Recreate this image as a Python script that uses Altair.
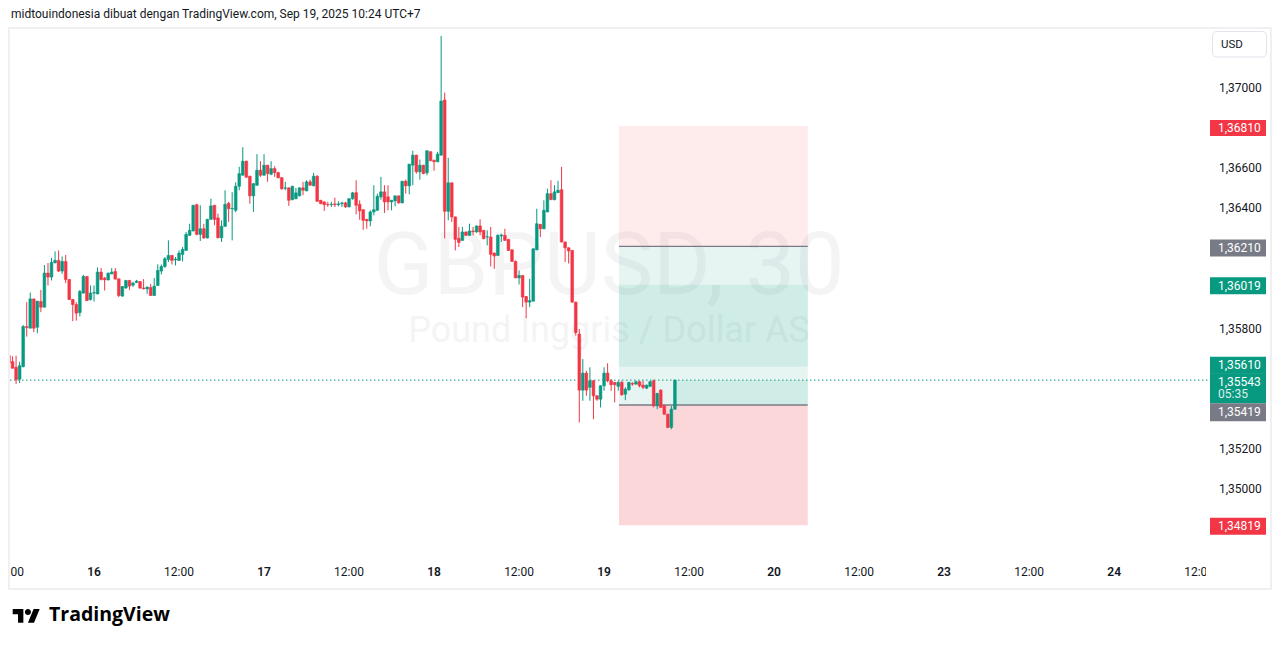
import altair as alt
import pandas as pd

# ---------------- data (GBPUSD 30m, index 0 = Sep 15 12:00 UTC+7) ----------------
opens = [
    1.35665, 1.35635, 1.35607, 1.35548, 1.35610, 1.35810, 1.35802, 1.35948, 1.35807, 1.35935,
    1.35907, 1.36077, 1.36057, 1.36128, 1.36140, 1.36087, 1.36135, 1.36045, 1.35945, 1.35920,
    1.35880, 1.35977, 1.36060, 1.35945, 1.35977, 1.35973, 1.36082, 1.36052, 1.36043, 1.36073,
    1.36085, 1.36048, 1.35962, 1.36003, 1.36040, 1.36017, 1.36030, 1.36035, 1.36002, 1.35998,
    1.36005, 1.35965, 1.36015, 1.36087, 1.36110, 1.36145, 1.36165, 1.36143, 1.36140, 1.36170,
    1.36190, 1.36265, 1.36287, 1.36418, 1.36270, 1.36298, 1.36252, 1.36345, 1.36415, 1.36352,
    1.36253, 1.36310, 1.36425, 1.36397, 1.36390, 1.36510, 1.36565, 1.36635, 1.36560, 1.36462,
    1.36515, 1.36590, 1.36565, 1.36615, 1.36570, 1.36598, 1.36578, 1.36553, 1.36500, 1.36502,
    1.36443, 1.36448, 1.36462, 1.36502, 1.36487, 1.36532, 1.36512, 1.36560, 1.36440, 1.36432,
    1.36420, 1.36418, 1.36422, 1.36418, 1.36423, 1.36427, 1.36407, 1.36448, 1.36478, 1.36420,
    1.36393, 1.36345, 1.36337, 1.36382, 1.36390, 1.36457, 1.36482, 1.36457, 1.36432, 1.36437,
    1.36462, 1.36427, 1.36535, 1.36512, 1.36615, 1.36665, 1.36582, 1.36615, 1.36577, 1.36682,
    1.36640, 1.36632, 1.36665, 1.36940, 1.36385, 1.36527, 1.36357, 1.36250, 1.36240, 1.36282,
    1.36265, 1.36287, 1.36282, 1.36312, 1.36290, 1.36257, 1.36257, 1.36177, 1.36165, 1.36263,
    1.36265, 1.36245, 1.36193, 1.36135, 1.36053, 1.36065, 1.35960, 1.35932, 1.35937, 1.36193,
    1.36320, 1.36298, 1.36382, 1.36473, 1.36443, 1.36478, 1.36493, 1.36232, 1.36203, 1.36190,
    1.35932, 1.35773, 1.35493, 1.35578, 1.35507, 1.35540, 1.35465, 1.35448, 1.35515, 1.35578,
    1.35540, 1.35532, 1.35512, 1.35532, 1.35473, 1.35495, 1.35527, 1.35523, 1.35535, 1.35518,
    1.35503, 1.35512, 1.35540, 1.35415, 1.35493, 1.35415, 1.35373, 1.35307, 1.35398,
]
highs = [
    1.35673, 1.35662, 1.35665, 1.35635, 1.35818, 1.35932, 1.35980, 1.35950, 1.35937, 1.35993,
    1.36117, 1.36127, 1.36153, 1.36185, 1.36190, 1.36160, 1.36167, 1.36047, 1.35948, 1.35932,
    1.35993, 1.36068, 1.36062, 1.36015, 1.36015, 1.36105, 1.36102, 1.36057, 1.36079, 1.36102,
    1.36102, 1.36050, 1.36012, 1.36043, 1.36043, 1.36032, 1.36043, 1.36037, 1.36047, 1.36010,
    1.36023, 1.36053, 1.36120, 1.36120, 1.36157, 1.36240, 1.36167, 1.36157, 1.36190, 1.36207,
    1.36282, 1.36323, 1.36417, 1.36423, 1.36415, 1.36323, 1.36347, 1.36448, 1.36417, 1.36373,
    1.36340, 1.36490, 1.36432, 1.36480, 1.36530, 1.36607, 1.36705, 1.36637, 1.36562, 1.36525,
    1.36670, 1.36635, 1.36670, 1.36617, 1.36635, 1.36610, 1.36582, 1.36555, 1.36532, 1.36504,
    1.36512, 1.36502, 1.36504, 1.36532, 1.36540, 1.36543, 1.36577, 1.36565, 1.36442, 1.36434,
    1.36432, 1.36432, 1.36453, 1.36435, 1.36432, 1.36432, 1.36450, 1.36482, 1.36540, 1.36440,
    1.36395, 1.36347, 1.36390, 1.36515, 1.36473, 1.36557, 1.36515, 1.36515, 1.36442, 1.36464,
    1.36464, 1.36537, 1.36543, 1.36622, 1.36687, 1.36667, 1.36643, 1.36617, 1.36689, 1.36684,
    1.36642, 1.36682, 1.37260, 1.36977, 1.36652, 1.36529, 1.36359, 1.36307, 1.36307, 1.36284,
    1.36323, 1.36307, 1.36314, 1.36345, 1.36292, 1.36290, 1.36307, 1.36179, 1.36270, 1.36273,
    1.36298, 1.36247, 1.36195, 1.36140, 1.36090, 1.36067, 1.35962, 1.36048, 1.36200, 1.36398,
    1.36322, 1.36440, 1.36498, 1.36540, 1.36515, 1.36537, 1.36607, 1.36234, 1.36205, 1.36192,
    1.35934, 1.35798, 1.35648, 1.35590, 1.35607, 1.35542, 1.35467, 1.35517, 1.35607, 1.35627,
    1.35548, 1.35534, 1.35540, 1.35540, 1.35507, 1.35534, 1.35532, 1.35540, 1.35540, 1.35540,
    1.35520, 1.35540, 1.35545, 1.35479, 1.35498, 1.35417, 1.35375, 1.35415, 1.35545,
]
lows = [
    1.35623, 1.35602, 1.35523, 1.35528, 1.35607, 1.35760, 1.35802, 1.35782, 1.35777, 1.35882,
    1.35905, 1.36015, 1.36040, 1.36126, 1.36082, 1.36073, 1.36027, 1.35943, 1.35837, 1.35840,
    1.35860, 1.35975, 1.35937, 1.35940, 1.35935, 1.35971, 1.36040, 1.35990, 1.36040, 1.36071,
    1.36045, 1.35957, 1.35960, 1.35998, 1.35993, 1.36007, 1.36027, 1.36000, 1.35996, 1.35973,
    1.35965, 1.35963, 1.36013, 1.36070, 1.36103, 1.36132, 1.36120, 1.36115, 1.36138, 1.36135,
    1.36188, 1.36263, 1.36285, 1.36265, 1.36237, 1.36248, 1.36250, 1.36343, 1.36315, 1.36250,
    1.36232, 1.36308, 1.36332, 1.36240, 1.36380, 1.36490, 1.36563, 1.36553, 1.36423, 1.36382,
    1.36513, 1.36557, 1.36563, 1.36532, 1.36565, 1.36557, 1.36550, 1.36493, 1.36490, 1.36412,
    1.36440, 1.36445, 1.36460, 1.36465, 1.36485, 1.36513, 1.36510, 1.36433, 1.36421, 1.36387,
    1.36407, 1.36407, 1.36407, 1.36410, 1.36407, 1.36402, 1.36405, 1.36443, 1.36370, 1.36343,
    1.36293, 1.36298, 1.36310, 1.36365, 1.36388, 1.36443, 1.36377, 1.36390, 1.36390, 1.36410,
    1.36423, 1.36425, 1.36473, 1.36470, 1.36515, 1.36573, 1.36543, 1.36570, 1.36565, 1.36637,
    1.36587, 1.36630, 1.36663, 1.36250, 1.36340, 1.36332, 1.36190, 1.36207, 1.36238, 1.36263,
    1.36263, 1.36265, 1.36278, 1.36265, 1.36246, 1.36215, 1.36110, 1.36098, 1.36163, 1.36232,
    1.36237, 1.36187, 1.36133, 1.36051, 1.36020, 1.35907, 1.35852, 1.35907, 1.35935, 1.36191,
    1.36257, 1.36296, 1.36380, 1.36441, 1.36440, 1.36476, 1.36230, 1.36132, 1.36125, 1.35930,
    1.35765, 1.35332, 1.35440, 1.35465, 1.35440, 1.35348, 1.35440, 1.35407, 1.35490, 1.35532,
    1.35490, 1.35432, 1.35490, 1.35465, 1.35443, 1.35490, 1.35515, 1.35521, 1.35507, 1.35498,
    1.35498, 1.35510, 1.35407, 1.35398, 1.35405, 1.35371, 1.35303, 1.35298, 1.35396,
]
closes = [
    1.35628, 1.35602, 1.35545, 1.35615, 1.35810, 1.35805, 1.35948, 1.35802, 1.35937, 1.35907,
    1.36077, 1.36057, 1.36130, 1.36140, 1.36087, 1.36135, 1.36045, 1.35945, 1.35920, 1.35877,
    1.35985, 1.36060, 1.35940, 1.35977, 1.35980, 1.36082, 1.36045, 1.36043, 1.36077, 1.36082,
    1.36047, 1.35965, 1.36010, 1.36040, 1.36012, 1.36027, 1.36037, 1.36002, 1.35998, 1.36007,
    1.35965, 1.36012, 1.36090, 1.36110, 1.36148, 1.36165, 1.36140, 1.36147, 1.36177, 1.36195,
    1.36270, 1.36290, 1.36415, 1.36270, 1.36298, 1.36252, 1.36345, 1.36412, 1.36345, 1.36253,
    1.36310, 1.36420, 1.36398, 1.36400, 1.36510, 1.36573, 1.36635, 1.36555, 1.36462, 1.36523,
    1.36590, 1.36565, 1.36615, 1.36573, 1.36598, 1.36578, 1.36552, 1.36497, 1.36502, 1.36440,
    1.36510, 1.36477, 1.36502, 1.36490, 1.36532, 1.36515, 1.36560, 1.36435, 1.36423, 1.36418,
    1.36418, 1.36420, 1.36418, 1.36422, 1.36427, 1.36407, 1.36448, 1.36477, 1.36415, 1.36387,
    1.36340, 1.36337, 1.36382, 1.36393, 1.36460, 1.36482, 1.36432, 1.36432, 1.36440, 1.36462,
    1.36427, 1.36535, 1.36512, 1.36620, 1.36665, 1.36582, 1.36615, 1.36573, 1.36687, 1.36637,
    1.36632, 1.36670, 1.36935, 1.36385, 1.36527, 1.36357, 1.36245, 1.36230, 1.36282, 1.36265,
    1.36287, 1.36283, 1.36312, 1.36282, 1.36248, 1.36258, 1.36170, 1.36162, 1.36265, 1.36267,
    1.36240, 1.36190, 1.36135, 1.36053, 1.36065, 1.35957, 1.35932, 1.35940, 1.36198, 1.36323,
    1.36298, 1.36390, 1.36473, 1.36443, 1.36482, 1.36490, 1.36232, 1.36203, 1.36187, 1.35932,
    1.35780, 1.35493, 1.35578, 1.35493, 1.35540, 1.35465, 1.35448, 1.35515, 1.35578, 1.35540,
    1.35520, 1.35520, 1.35532, 1.35470, 1.35498, 1.35532, 1.35523, 1.35535, 1.35515, 1.35507,
    1.35518, 1.35535, 1.35415, 1.35477, 1.35407, 1.35373, 1.35307, 1.35398, 1.35543,
]

# time scale labels (bar index of each label; 24 bars = 12 hours)
time_ticks = [0, 24, 48, 72, 96, 120, 144, 168, 192, 216, 240, 264, 288, 312, 336]
time_labels = ["12:00", "16", "12:00", "17", "12:00", "18", "12:00", "19",
               "12:00", "20", "12:00", "23", "12:00", "24", "12:00"]
price_ticks = [1.350, 1.352, 1.358, 1.364, 1.366, 1.370]

# position tools (short A, long B)
tool_start, tool_end, last_bar = 172.2, 225.5, 188.4
zone_lo = [1.36210, 1.35610, 1.35419, 1.34819, 1.35419]
zone_hi = [1.36810, 1.36210, 1.36019, 1.35419, 1.35543]
zone_kind = ["loss", "profit", "profit", "loss2", "profit"]
zone_from_last = [False, False, False, False, True]
entry_prices = [1.36210, 1.35419]
current_price = 1.35543
countdown = "05:35"

tag_prices = [1.36810, 1.36210, 1.36019, 1.35610, 1.35543, 1.35419, 1.34819]
tag_kind = ["red", "gray", "green", "green", "green", "gray", "red"]

header = "midtouindonesia dibuat dengan TradingView.com, Sep 19, 2025 10:24 UTC+7"
wm_symbol = "GBPUSD, 30"
wm_desc = "Pound Inggris / Dollar AS"

# ---------------- styling ----------------
GREEN, RED, GRAY, TXT = "#089981", "#F23645", "#787B86", "#131722"
W, H = 1198, 526
xs = alt.Scale(domain=[0.28, 338.5], nice=False, zero=False, padding=0)
ys = alt.Scale(domain=[1.346708, 1.372943], nice=False, zero=False, padding=0)
FONT = "Roboto"

df = pd.DataFrame({"idx": list(range(len(opens))), "o": opens, "h": highs, "l": lows, "c": closes})
df["h"] = df[["h", "o", "c"]].max(axis=1)
df["l"] = df[["l", "o", "c"]].min(axis=1)
df["dir"] = ["up" if c >= o else "down" for o, c in zip(df.o, df.c)]
cscale = alt.Scale(domain=["up", "down"], range=[GREEN, RED])

one = pd.DataFrame({"a": [0]})


def X(field):
    return alt.X(field, scale=xs, axis=None)


def Y(field):
    return alt.Y(field, scale=ys, axis=None)


def txt(text, x, y, size, color, align="left", baseline="middle", weight=400, opacity=1.0,
        font=FONT):
    return alt.Chart(pd.DataFrame({"t": [text]})).mark_text(
        font=font, fontSize=size, color=color, align=align, baseline=baseline,
        fontWeight=weight, opacity=opacity, clip=False
    ).encode(text="t:N", x=alt.value(x), y=alt.value(y))


# watermark
wm1 = txt(wm_symbol, W / 2, 239, 88, GRAY, align="center", opacity=0.075)
wm2 = txt(wm_desc, W / 2, 302, 36, GRAY, align="center", opacity=0.075)

# zones of the two position tools
zone_color = {"loss": (RED, 0.1), "loss2": (RED, 0.2), "profit": (GREEN, 0.1)}
zdf = pd.DataFrame({
    "x0": [last_bar if f else tool_start for f in zone_from_last],
    "x1": [tool_end] * len(zone_lo),
    "lo": zone_lo, "hi": zone_hi,
    "fill": [zone_color[k][0] for k in zone_kind],
    "alpha": [zone_color[k][1] for k in zone_kind],
})
zones = alt.Chart(zdf).mark_rect(clip=True).encode(
    x=X("x0:Q"), x2="x1:Q", y=Y("lo:Q"), y2="hi:Q",
    color=alt.Color("fill:N", scale=None), opacity=alt.Opacity("alpha:Q", scale=None))

edf = pd.DataFrame({"p": entry_prices, "x0": [tool_start] * 2, "x1": [tool_end] * 2})
entries = alt.Chart(edf).mark_rule(color=GRAY, strokeWidth=1.3, clip=True).encode(
    x=X("x0:Q"), x2="x1:Q", y=Y("p:Q"))

cur = alt.Chart(pd.DataFrame({"p": [current_price]})).mark_rule(
    color=GREEN, strokeWidth=1, strokeDash=[1.5, 2.5]).encode(
    y=Y("p:Q"), x=alt.value(0), x2=alt.value(W))

# candles
wicks = alt.Chart(df).mark_rule(strokeWidth=1, clip=True).encode(
    x=X("idx:Q"), y=Y("l:Q"), y2="h:Q",
    color=alt.Color("dir:N", scale=cscale, legend=None))
bodies = alt.Chart(df).mark_bar(width=2.7, clip=True, strokeWidth=0.6).encode(
    x=X("idx:Q"), y=Y("o:Q"), y2="c:Q",
    color=alt.Color("dir:N", scale=cscale, legend=None),
    stroke=alt.Stroke("dir:N", scale=cscale, legend=None))

# time scale labels (day labels bold), drawn through the x scale
tdf = pd.DataFrame({"idx": time_ticks, "t": time_labels,
                    "day": [":" not in t for t in time_labels]})
t_hours = alt.Chart(tdf).transform_filter("!datum.day").mark_text(
    font=FONT, fontSize=12, color=TXT, align="center", baseline="middle", clip=False).encode(
    x=X("idx:Q"), y=alt.value(H + 17), text="t:N")
t_days = alt.Chart(tdf).transform_filter("datum.day").mark_text(
    font=FONT, fontSize=12, fontWeight=600, color=TXT, align="center", baseline="middle",
    clip=False).encode(x=X("idx:Q"), y=alt.value(H + 17), text="t:N")

# price scale labels, drawn through the y scale
pdf = pd.DataFrame({"p": price_ticks, "t": [("%.5f" % p).replace(".", ",") for p in price_ticks]})
p_labels = alt.Chart(pdf).mark_text(
    font=FONT, fontSize=12, color=TXT, align="left", baseline="middle", clip=False).encode(
    y=Y("p:Q"), x=alt.value(W + 11), text="t:N")

# price tags on the right scale
tag_fill = {"red": RED, "gray": GRAY, "green": GREEN}
tag_style = {  # (box centre offset, box height, text offset)
    1.36810: (2, 16, 2), 1.36210: (1.5, 17, 1.5), 1.36019: (1, 17, 1),
    1.35610: (-1.5, 17, -1.8), 1.35543: (8, 30, 1.5), 1.35419: (7.2, 18, 7.2),
    1.34819: (1, 17, 1),
}
tags = []
for p, k in zip(tag_prices, tag_kind):
    dyb, hb, dyt = tag_style[p]
    d = pd.DataFrame({"p": [p], "t": [("%.5f" % p).replace(".", ",")]})
    tags.append(alt.Chart(d).mark_rule(color=tag_fill[k], strokeWidth=hb, yOffset=dyb,
                                       strokeCap="butt", clip=False).encode(
        y=Y("p:Q"), x=alt.value(W + 2), x2=alt.value(W + 58)))
    tags.append(alt.Chart(d).mark_text(font=FONT, fontSize=12, color="white", align="left",
                                       baseline="middle", yOffset=dyt, clip=False).encode(
        y=Y("p:Q"), x=alt.value(W + 10), text="t:N"))
cd = alt.Chart(pd.DataFrame({"p": [current_price], "t": [countdown]})).mark_text(
    font=FONT, fontSize=12, color="white", opacity=0.85, align="left", baseline="middle",
    yOffset=14, clip=False).encode(y=Y("p:Q"), x=alt.value(W + 10), text="t:N")

# currency button
usd_box = alt.Chart(one).mark_rect(fill="white", stroke="#E0E3EB", strokeWidth=1, cornerRadius=4,
                                   clip=False).encode(
    x=alt.value(W + 4.5), x2=alt.value(W + 58.5), y=alt.value(2.5), y2=alt.value(28))
usd_txt = txt("USD", W + 13, 15.5, 11.5, TXT)

# covers for the clipped first/last time labels, frame, header and logo
cover_r = alt.Chart(one).mark_rect(color="white", clip=False).encode(
    x=alt.value(W - 2), x2=alt.value(W + 22), y=alt.value(H + 4), y2=alt.value(H + 30))
cover_l = alt.Chart(one).mark_rect(color="white", clip=False).encode(
    x=alt.value(-14), x2=alt.value(-3.6), y=alt.value(H + 4), y2=alt.value(H + 30))
frame = alt.Chart(one).mark_rect(fillOpacity=0, stroke="#F0F0F2", strokeWidth=2, clip=False).encode(
    x=alt.value(-1), x2=alt.value(1261), y=alt.value(-1), y2=alt.value(560))
head = txt(header, 1, -15.5, 12, TXT)

logo_path = ("M-0.222,0.444 L-0.611,0.444 L-0.611,-0.167 L-1,-0.167 L-1,-0.556 L-0.222,-0.556 Z "
             "M0.556,0.444 L0.111,0.444 L0.528,-0.556 L0.972,-0.556 Z "
             "M0.333,-0.333 A0.222,0.222 0 1,1 -0.111,-0.333 A0.222,0.222 0 1,1 0.333,-0.333 Z")
logo_icon = alt.Chart(one).mark_point(shape=logo_path, size=750, filled=True, color="#000000",
                                      opacity=1, strokeWidth=0, clip=False).encode(
    x=alt.value(16.4), y=alt.value(587.6))
logo_txt = txt("TradingView", 39, 592, 19.5, "#000000", baseline="alphabetic", weight="bold",
               font="Open Sans")

chart = alt.layer(
    wm1, wm2, zones, entries, cur, wicks, bodies, t_hours, t_days, p_labels, *tags, cd,
    usd_box, usd_txt, cover_r, cover_l, frame, head, logo_icon, logo_txt
).properties(
    width=W, height=H,
    autosize=alt.AutoSizeParams(type="none"),
    padding={"left": 2, "top": 21, "right": 65, "bottom": 78},
    background="white",
).configure_view(stroke=None)

chart.save("out.html", embed_options={"renderer": "svg", "actions": False})
